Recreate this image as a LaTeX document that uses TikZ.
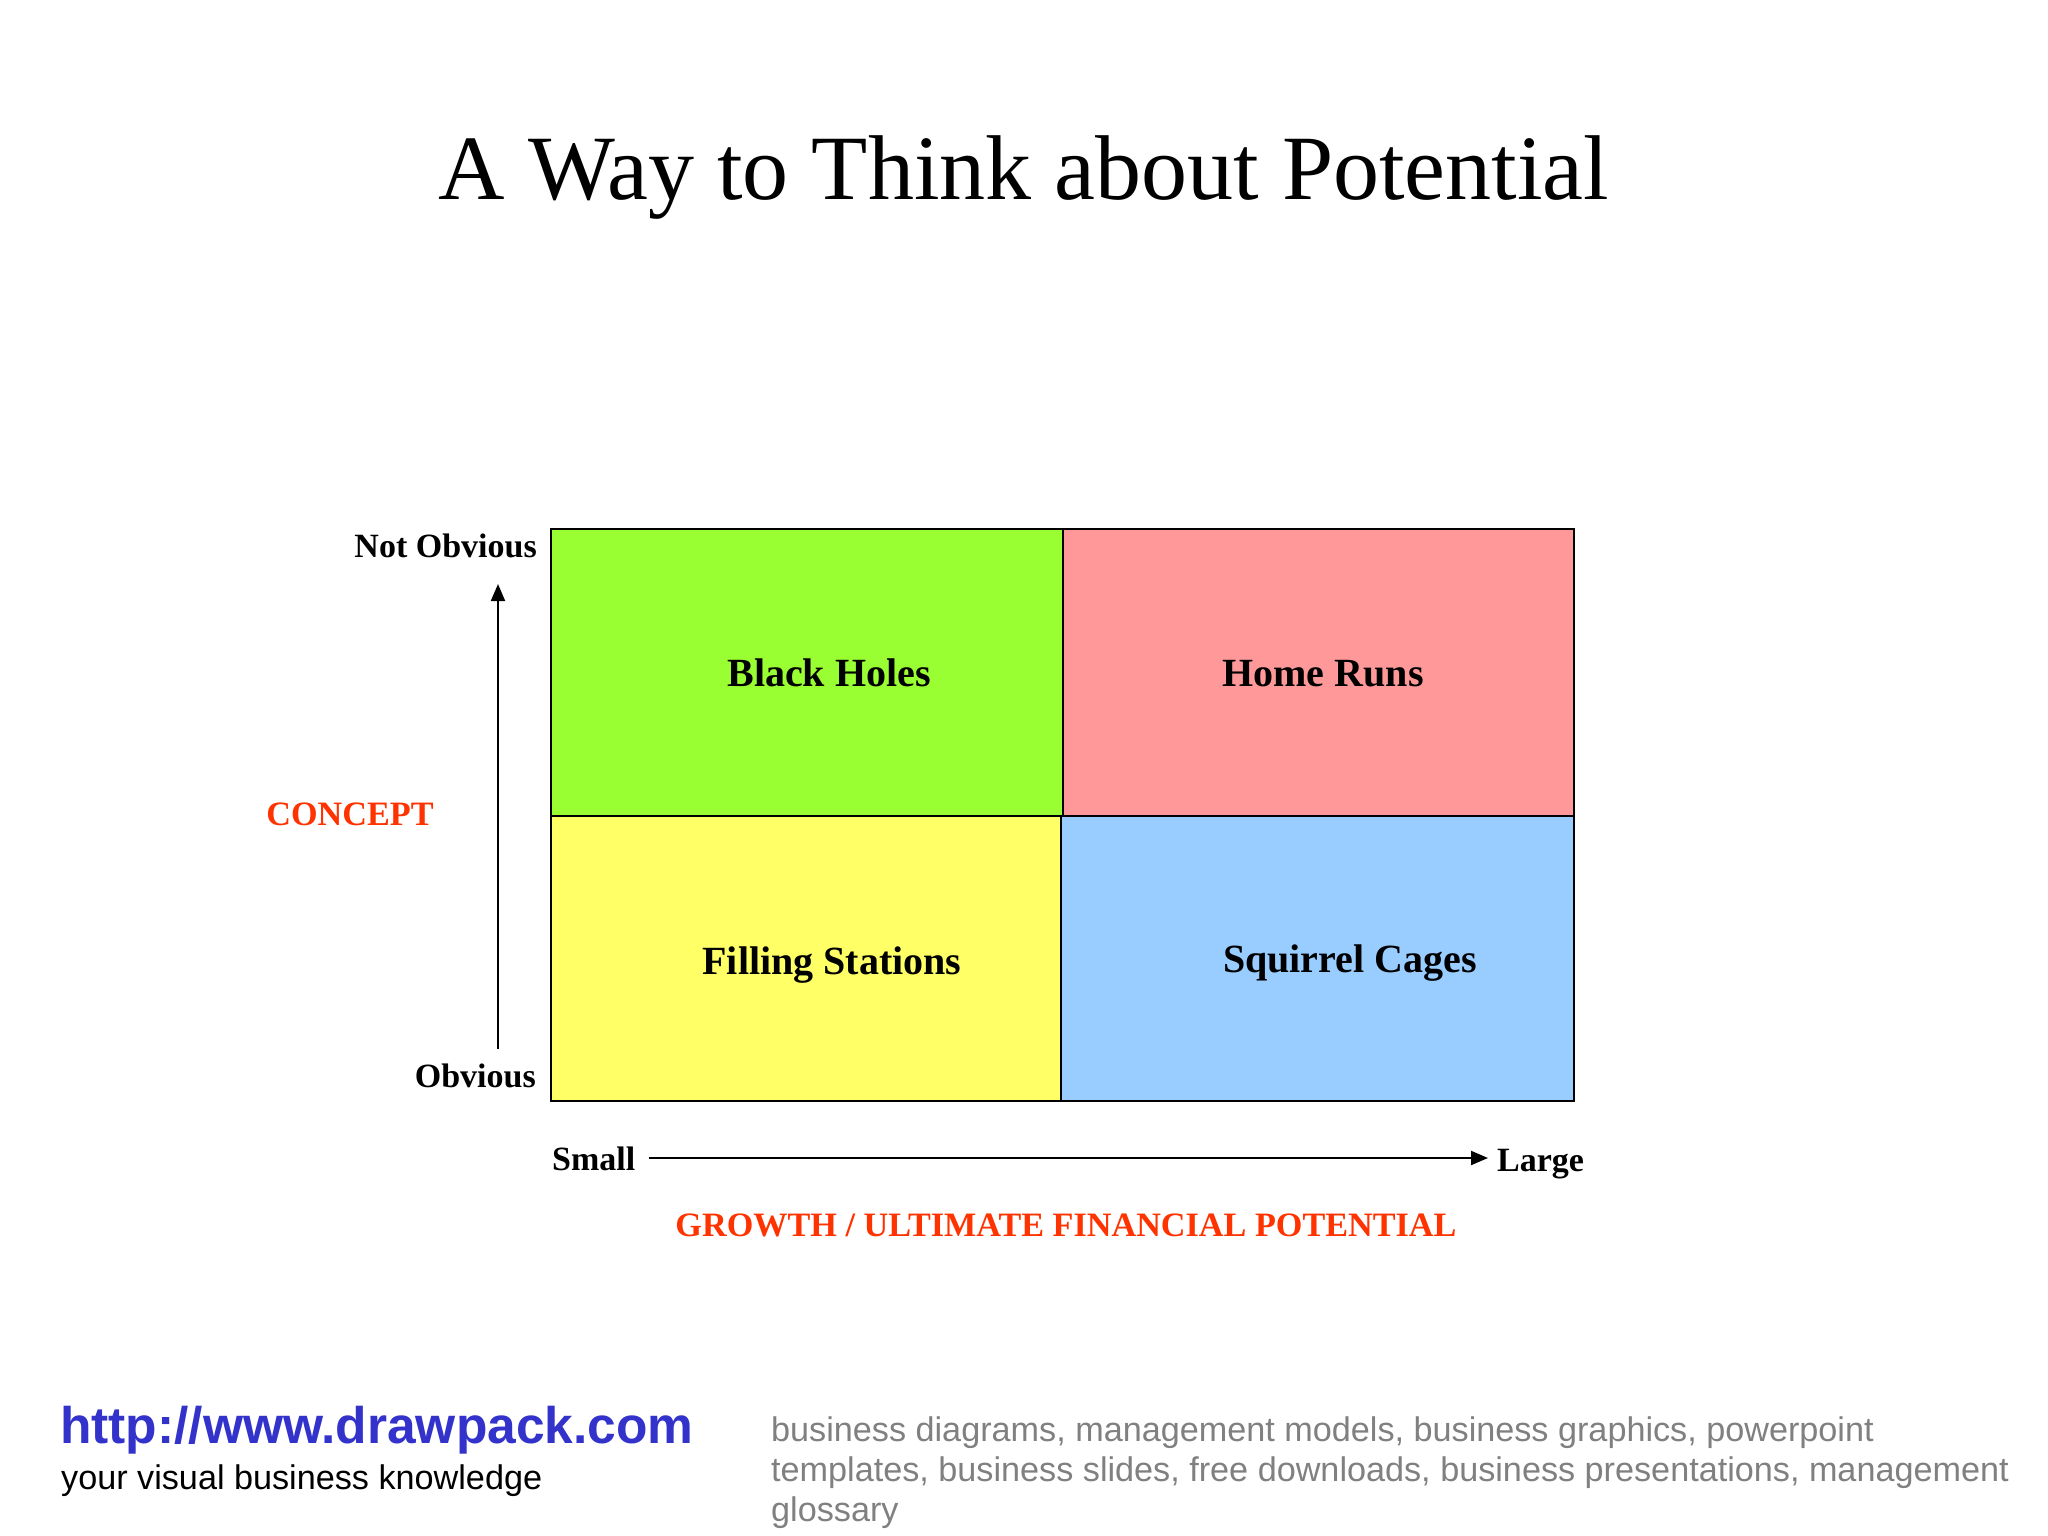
\documentclass[tikz,border=0pt]{standalone}
\usepackage{fontspec}
\setmainfont{Liberation Serif}
\newfontfamily\arialfont{Liberation Sans}
\usetikzlibrary{arrows.meta}
\definecolor{qgreen}{HTML}{99FF33}
\definecolor{qpink}{HTML}{FF9999}
\definecolor{qyellow}{HTML}{FFFF66}
\definecolor{qblue}{HTML}{99CCFF}
\definecolor{axisred}{HTML}{FF3300}
\definecolor{urlblue}{HTML}{3333CC}
\definecolor{footgray}{HTML}{808080}
\tikzset{
  quad/.style={draw=black, line width=2.5pt},
  qlabel/.style={inner sep=0pt, anchor=base, font=\fontsize{40}{46}\selectfont\bfseries},
  axlabel/.style={inner sep=0pt, font=\fontsize{34}{40}\selectfont\bfseries},
  axtitle/.style={inner sep=0pt, anchor=base, text=axisred, font=\fontsize{34.2}{40}\selectfont\bfseries},
  axarrow/.style={line width=2pt, -{Triangle[length=17pt,width=14pt]}},
  foot/.style={inner sep=0pt, anchor=base west},
}
\begin{document}
\begin{tikzpicture}[x=1pt,y=-1pt]
\useasboundingbox (0,0) rectangle (2048,1536);
\fill[white] (0,0) rectangle (2048,1536);

% title
\node[inner sep=0pt, anchor=base, font=\fontsize{92}{100}\selectfont] (title) at (1024,199) {A Way to Think about Potential};

% quadrants
\draw[quad, fill=qgreen]  (551,529) rectangle (1063,816);
\draw[quad, fill=qpink]   (1063,529) rectangle (1574,816);
\draw[quad, fill=qyellow] (551,816) rectangle (1061,1101);
\draw[quad, fill=qblue]   (1061,816) rectangle (1574,1101);

\node[qlabel] (bh) at (829,686) {Black Holes};
\node[qlabel] (hr) at (1323,686) {Home Runs};
\node[qlabel] (fs) at (832,974) {Filling Stations};
\node[qlabel] (sc) at (1350,972) {Squirrel Cages};

% vertical axis
\node[axlabel, anchor=base east] (notobv) at (537,557) {Not Obvious};
\node[axlabel, anchor=base east] (obv) at (536,1087) {Obvious};
\node[axtitle] (concept) at (350,825) {CONCEPT};
\coordinate (vb) at (498,1049);
\coordinate (vt) at (498,584);
\draw[axarrow] (vb) -- (vt);

% horizontal axis
\node[axlabel, anchor=base west] (small) at (552,1170) {Small};
\node[axlabel, anchor=base west] (large) at (1497,1171) {Large};
\coordinate (hl) at (649,1158);
\coordinate (hr2) at (1488,1158);
\draw[axarrow] (hl) -- (hr2);
\node[axtitle] (growth) at (1066,1236) {GROWTH / ULTIMATE FINANCIAL POTENTIAL};

% footer
\node[foot, text=urlblue, font=\arialfont\fontsize{51.5}{56}\selectfont\bfseries] (url) at (60,1443) {http://www.drawpack.com};
\node[foot, text=black, font=\arialfont\fontsize{34.2}{40}\selectfont] (tag) at (61,1489) {your visual business knowledge};
\node[foot, text=footgray, font=\arialfont\fontsize{34.2}{40}\selectfont] (g1) at (771,1441) {business diagrams, management models, business graphics, powerpoint};
\node[foot, text=footgray, font=\arialfont\fontsize{34.2}{40}\selectfont] (g2) at (771,1481) {templates, business slides, free downloads, business presentations, management};
\node[foot, text=footgray, font=\arialfont\fontsize{34.2}{40}\selectfont] (g3) at (771,1521) {glossary};
\end{tikzpicture}
\end{document}
